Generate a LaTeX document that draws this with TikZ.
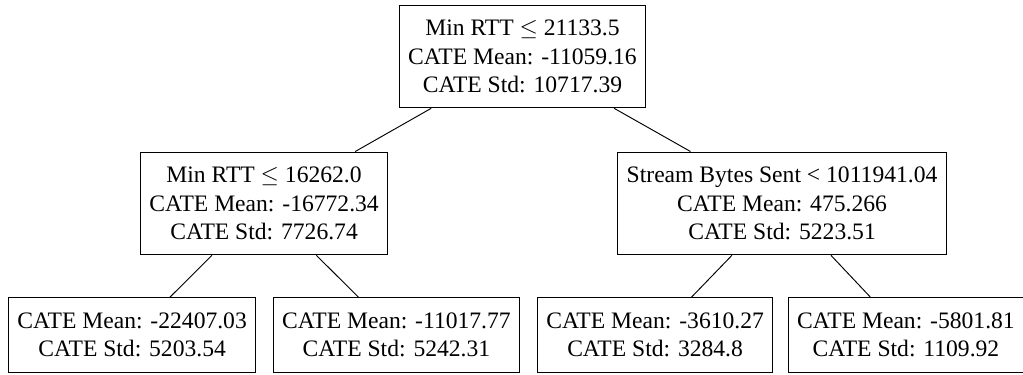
\documentclass[tikz,border=0pt]{standalone}
\usepackage{fontspec}
\setmainfont{Liberation Serif}
\usepackage{amsmath}
\usepackage{amssymb}
\usetikzlibrary{positioning}

\begin{document}
\begin{tikzpicture}[on grid]
	\tikzstyle{split} = [draw, thin, align=center, inner xsep=3.8pt, inner ysep=6.4pt]

	\useasboundingbox (-221.4pt, 23.9pt) rectangle (212.1pt, -135.0pt);

	% first level
	\path
		node[split] (1) {Min RTT $\leq$ 21133.5\\ CATE Mean: -11059.16\\ CATE Std: 10717.39}
		node[split, below left=62.3pt and 109.5pt of 1] (2) {Min RTT $\leq$ 16262.0\\ CATE Mean: -16772.34\\ CATE Std: 7726.74}
		node[split, below right=62.3pt and 110pt of 1] (3) {Stream Bytes Sent < 1011941.04\\ CATE Mean: 475.266\\ CATE Std: 5223.51}

	% leaves
		node[split, below left=55.7pt and 55.9pt of 2] (4) {CATE Mean: -22407.03\\ CATE Std: 5203.54}
		node[split, below right=55.7pt and 56.1pt of 2] (5) {CATE Mean: -11017.77\\ CATE Std: 5242.31}
		node[split, below left=55.7pt and 53.8pt of 3] (6) {CATE Mean: -3610.27\\ CATE Std: 3284.8}
		node[split, below right=55.7pt and 52.5pt of 3] (7) {CATE Mean: -5801.81\\ CATE Std: 1109.92}

		(1) edge (2)
		(1) edge (3)
		(2) edge (4)
		(2) edge (5)
		(3) edge (6)
		(3) edge (7)
	;
\end{tikzpicture}
\end{document}
